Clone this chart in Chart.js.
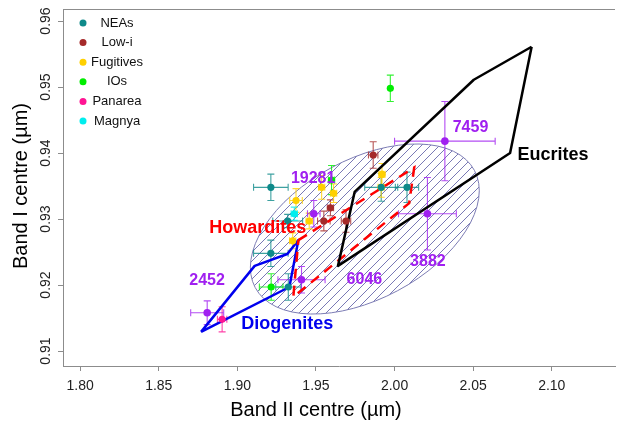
<!DOCTYPE html>
<html>
<head>
<meta charset="utf-8">
<script src="https://cdn.jsdelivr.net/npm/chart.js@4.4.1/dist/chart.umd.min.js"></script>
<style>
  html, body { margin: 0; padding: 0; background: #fff; }
</style>
</head>
<body>
<canvas id="bandChart" width="619" height="423"></canvas>
<script>
// Band I / Band II centres (um) with their errors, per group
const neaX = [1.9213, 1.9320, 1.9213, 1.9324, 1.9915, 2.0079];
const neaY = [0.9348, 0.9297, 0.9248, 0.9197, 0.9348, 0.9348];
const neaXErr = [0.011, 0.0095, 0.011, 0.008, 0.0105, 0.0074];
const neaYErr = [0.002, 0.001, 0.002, 0.002, 0.0021, 0.0023];

const lowiX = [1.9864, 1.9592, 1.9550, 1.9691];
const lowiY = [0.9397, 0.9317, 0.9297, 0.9297];
const lowiXErr = [0.003, 0.002, 0.004, 0.003];
const lowiYErr = [0.002, 0.0012, 0.0015, 0.0017];

const fugX = [1.9373, 1.9536, 1.9612, 1.9457, 1.9352, 1.9920, 1.9915];
const fugY = [0.9328, 0.9348, 0.9339, 0.9297, 0.9267, 0.9368, 0.9348];
const fugXErr = [0.004, 0.002, 0.002, 0.002, 0.002, 0.002, 0.002];
const fugYErr = [0.0018, 0.0018, 0.0014, 0.0012, 0.0012, 0.0016, 0.0015];

const ioX = [1.9973, 1.9599, 1.9215];
const ioY = [0.9498, 0.9359, 0.9197];
const ioXErr = [0, 0.002, 0.0075];
const ioYErr = [0.002, 0.0022, 0.002];

const panX = [1.8903];
const panY = [0.9148];
const panXErr = [0.003];
const panYErr = [0.0019];

const magX = [1.9362];
const magY = [0.9308];
const magXErr = [0.002];
const magYErr = [0.001];

// labelled V-type asteroids
const vNames = ['7459', '19281', '3882', '6046', '2452'];
const vX = [2.0320, 1.9486, 2.0209, 1.9408, 1.8808];
const vY = [0.9418, 0.9308, 0.9308, 0.9208, 0.9158];
const vXErr = [0.032, 0.004, 0.0184, 0.015, 0.0105];
const vYErr = [0.006, 0.002, 0.0055, 0.002, 0.0018];
const vLabelX = [2.0483, 1.9482, 2.0212, 1.9808, 1.8807];
const vLabelY = [0.9438, 0.9362, 0.9236, 0.9208, 0.9206];

// HED meteorite fields
const eucX = [2.0872, 2.0504, 1.9746, 1.9640, 2.0735];
const eucY = [0.9561, 0.9511, 0.9341, 0.9229, 0.9400];
const howX = [1.9388, 2.0125, 2.0093, 1.9356];
const howY = [0.9268, 0.9378, 0.9324, 0.9182];
const dioX = [1.8769, 1.9110, 1.9318, 1.9388, 1.9331];
const dioY = [0.9129, 0.9229, 0.9247, 0.9268, 0.9197];
const fieldNames = ['Eucrites', 'Howardites', 'Diogenites'];
const fieldLabelX = [2.1008, 1.9129, 1.9318];
const fieldLabelY = [0.9397, 0.9286, 0.9141];

// hatched region: centre and half-axis vectors
const ellCentre = [1.98108, 0.928485];
const ellMajor = [0.06973, 0.00888];
const ellMinor = [0.02072, -0.009364];

const xTicks = [1.80, 1.85, 1.90, 1.95, 2.00, 2.05, 2.10];
const yTicks = [0.91, 0.92, 0.93, 0.94, 0.95, 0.96];

const FONT = '"Liberation Sans", Arial, sans-serif';
const PURPLE = '#A020F0';

const groups = [
  { name: 'NEAs', color: '#0E8A8A', x: neaX, y: neaY, xe: neaXErr, ye: neaYErr },
  { name: 'Low-i', color: '#A52A2A', x: lowiX, y: lowiY, xe: lowiXErr, ye: lowiYErr },
  { name: 'Fugitives', color: '#FFD000', x: fugX, y: fugY, xe: fugXErr, ye: fugYErr },
  { name: 'IOs', color: '#00EE00', x: ioX, y: ioY, xe: ioXErr, ye: ioYErr },
  { name: 'Panarea', color: '#FF1493', x: panX, y: panY, xe: panXErr, ye: panYErr },
  { name: 'Magnya', color: '#00EEEE', x: magX, y: magY, xe: magXErr, ye: magYErr }
];
const vGroup = { name: 'V', color: PURPLE, x: vX, y: vY, xe: vXErr, ye: vYErr };

function toPoints(xs, ys) {
  return xs.map((v, i) => ({ x: v, y: ys[i] }));
}
function closed(xs, ys) {
  const pts = toPoints(xs, ys);
  pts.push(pts[0]);
  return pts;
}

function makeHatch(ctx, color) {
  const c = document.createElement('canvas');
  c.width = 9; c.height = 9;
  const g = c.getContext('2d');
  g.strokeStyle = color;
  g.lineWidth = 0.75;
  g.beginPath();
  g.moveTo(0, 9); g.lineTo(9, 0);
  g.moveTo(-1, 1); g.lineTo(1, -1);
  g.moveTo(8, 10); g.lineTo(10, 8);
  g.stroke();
  return ctx.createPattern(c, 'repeat');
}

function drawErrorBars(ctx, xs, ys, grp) {
  const cap = 3.5;
  ctx.strokeStyle = grp.color;
  ctx.globalAlpha = 0.8;
  ctx.lineWidth = 1.1;
  grp.x.forEach((xv, i) => {
    const yv = grp.y[i];
    const px = xs.getPixelForValue(xv), py = ys.getPixelForValue(yv);
    ctx.beginPath();
    if (grp.xe[i] > 0) {
      const x0 = xs.getPixelForValue(xv - grp.xe[i]), x1 = xs.getPixelForValue(xv + grp.xe[i]);
      ctx.moveTo(x0, py); ctx.lineTo(x1, py);
      ctx.moveTo(x0, py - cap); ctx.lineTo(x0, py + cap);
      ctx.moveTo(x1, py - cap); ctx.lineTo(x1, py + cap);
    }
    if (grp.ye[i] > 0) {
      const y0 = ys.getPixelForValue(yv - grp.ye[i]), y1 = ys.getPixelForValue(yv + grp.ye[i]);
      ctx.moveTo(px, y0); ctx.lineTo(px, y1);
      ctx.moveTo(px - cap, y0); ctx.lineTo(px + cap, y0);
      ctx.moveTo(px - cap, y1); ctx.lineTo(px + cap, y1);
    }
    ctx.stroke();
  });
  ctx.globalAlpha = 1;
}

const decor = {
  id: 'decor',
  beforeDatasetsDraw(chart) {
    const { ctx, chartArea: a } = chart;
    const xs = chart.scales.x, ys = chart.scales.y;
    ctx.save();
    ctx.beginPath();
    ctx.rect(a.left, a.top, a.right - a.left, a.bottom - a.top);
    ctx.clip();

    // hatched ellipse
    const cx = xs.getPixelForValue(ellCentre[0]), cy = ys.getPixelForValue(ellCentre[1]);
    const mx = xs.getPixelForValue(ellCentre[0] + ellMajor[0]) - cx;
    const my = ys.getPixelForValue(ellCentre[1] + ellMajor[1]) - cy;
    const nx = xs.getPixelForValue(ellCentre[0] + ellMinor[0]) - cx;
    const ny = ys.getPixelForValue(ellCentre[1] + ellMinor[1]) - cy;
    ctx.beginPath();
    ctx.ellipse(cx, cy, Math.hypot(mx, my), Math.hypot(nx, ny), Math.atan2(my, mx), 0, 2 * Math.PI);
    ctx.fillStyle = makeHatch(ctx, '#4c4c9c');
    ctx.fill();
    ctx.strokeStyle = '#7c7cb4';
    ctx.lineWidth = 1;
    ctx.stroke();

    groups.forEach(g => drawErrorBars(ctx, xs, ys, g));
    drawErrorBars(ctx, xs, ys, vGroup);
    ctx.restore();
  },
  afterDatasetsDraw(chart) {
    const { ctx } = chart;
    const xs = chart.scales.x, ys = chart.scales.y;
    ctx.save();
    ctx.textAlign = 'center';
    ctx.textBaseline = 'middle';
    ctx.font = 'bold 16px ' + FONT;
    ctx.fillStyle = PURPLE;
    vNames.forEach((t, i) => {
      ctx.fillText(t, xs.getPixelForValue(vLabelX[i]), ys.getPixelForValue(vLabelY[i]));
    });
    const fieldColors = ['#000000', '#FF0000', '#0000EE'];
    ctx.font = 'bold 18px ' + FONT;
    fieldNames.forEach((t, i) => {
      ctx.fillStyle = fieldColors[i];
      ctx.fillText(t, xs.getPixelForValue(fieldLabelX[i]), ys.getPixelForValue(fieldLabelY[i]));
    });
    ctx.restore();
  },
  afterDraw(chart) {
    const { ctx, chartArea: a } = chart;
    const xs = chart.scales.x, ys = chart.scales.y;
    ctx.save();
    // top edge of the box
    ctx.strokeStyle = '#8c8c8c';
    ctx.lineWidth = 1;
    ctx.beginPath();
    ctx.moveTo(a.left, a.top + 0.5);
    ctx.lineTo(a.right, a.top + 0.5);
    ctx.stroke();

    // y tick labels, read bottom to top
    ctx.fillStyle = '#222';
    ctx.font = '14px ' + FONT;
    ctx.textAlign = 'center';
    ctx.textBaseline = 'middle';
    yTicks.forEach(v => {
      ctx.save();
      ctx.translate(a.left - 17, ys.getPixelForValue(v));
      ctx.rotate(-Math.PI / 2);
      ctx.fillText(v.toFixed(2), 0, 0);
      ctx.restore();
    });

    // axis titles
    ctx.fillStyle = '#000';
    ctx.font = '20px ' + FONT;
    ctx.fillText('Band II centre (\u00b5m)', xs.getPixelForValue(1.95), 410);
    ctx.save();
    ctx.translate(21, ys.getPixelForValue(0.935));
    ctx.rotate(-Math.PI / 2);
    ctx.fillText('Band I centre (\u00b5m)', 0, 0);
    ctx.restore();

    // legend
    ctx.font = '13px ' + FONT;
    groups.forEach((g, i) => {
      const ly = a.top + 14 + i * 19.6;
      ctx.fillStyle = g.color;
      ctx.beginPath();
      ctx.arc(a.left + 20, ly, 3.5, 0, 2 * Math.PI);
      ctx.fill();
      ctx.fillStyle = '#111';
      ctx.fillText(g.name, a.left + 54, ly);
    });
    ctx.restore();
  }
};

const datasets = [];
groups.forEach(g => {
  datasets.push({
    label: g.name,
    data: toPoints(g.x, g.y),
    backgroundColor: g.color,
    borderWidth: 0,
    pointRadius: 3.6,
    order: 0
  });
});
datasets.push({
  label: 'V-types',
  data: toPoints(vX, vY),
  backgroundColor: PURPLE,
  borderWidth: 0,
  pointRadius: 3.8,
  order: 0
});
datasets.push({
  label: 'Eucrites', data: closed(eucX, eucY), showLine: true, pointRadius: 0,
  borderColor: '#000', borderWidth: 2.5, borderJoinStyle: 'round', order: 1
});
datasets.push({
  label: 'Howardites', data: closed(howX, howY), showLine: true, pointRadius: 0,
  borderColor: '#FF0000', borderWidth: 2.5, borderDash: [10, 7], order: 1
});
datasets.push({
  label: 'Diogenites', data: closed(dioX, dioY), showLine: true, pointRadius: 0,
  borderColor: '#0000EE', borderWidth: 2.5, borderJoinStyle: 'round', order: 1
});

new Chart(document.getElementById('bandChart'), {
  type: 'scatter',
  data: { datasets },
  options: {
    responsive: false,
    animation: false,
    layout: { padding: { top: 9, right: 0, bottom: 0, left: 0 } },
    plugins: { legend: { display: false }, tooltip: { enabled: false } },
    scales: {
      x: {
        type: 'linear',
        min: 1.78907,
        max: 2.14023,
        afterBuildTicks: s => { s.ticks = xTicks.map(v => ({ value: v })); },
        afterFit: s => { s.height = 57; },
        ticks: {
          callback: v => Number(v).toFixed(2),
          font: { family: FONT, size: 14 },
          color: '#222',
          padding: 7,
          maxRotation: 0,
          autoSkip: false
        },
        grid: { drawOnChartArea: false, drawTicks: true, tickLength: 5, color: '#8c8c8c' },
        border: { display: true, color: '#8c8c8c' }
      },
      y: {
        type: 'linear',
        min: 0.90773,
        max: 0.96182,
        afterBuildTicks: s => { s.ticks = yTicks.map(v => ({ value: v })); },
        afterFit: s => { s.width = 63; },
        ticks: { display: false },
        grid: { drawOnChartArea: false, drawTicks: true, tickLength: 5, color: '#8c8c8c' },
        border: { display: true, color: '#8c8c8c' }
      }
    }
  },
  plugins: [decor]
});
</script>
</body>
</html>
